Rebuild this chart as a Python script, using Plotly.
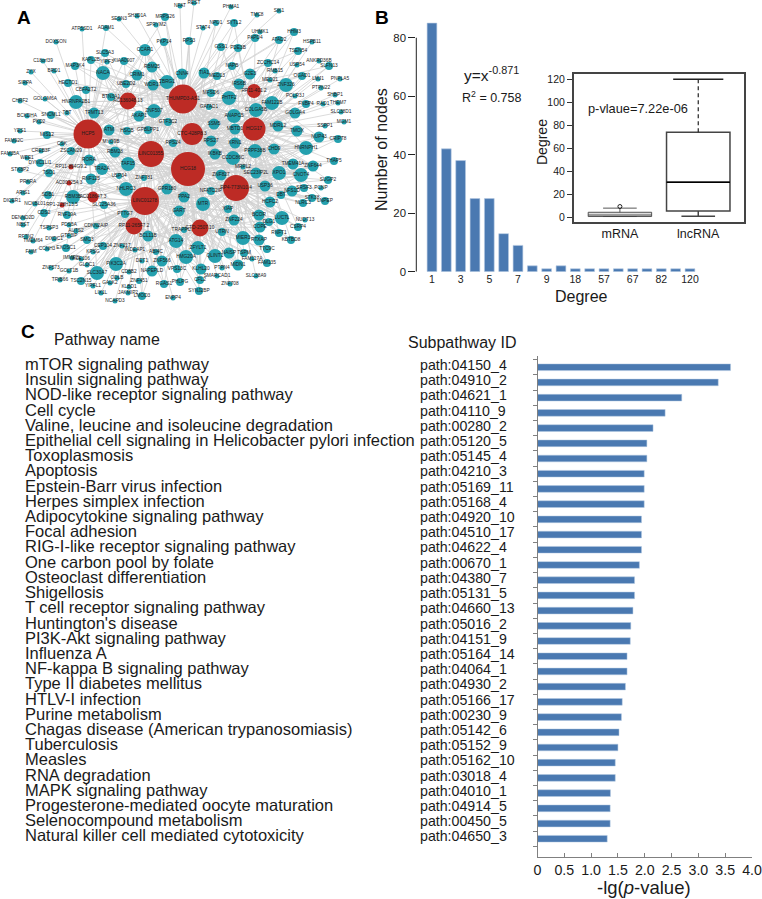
import plotly.graph_objects as go

W, H = 762, 899
FONT = "Liberation Sans"
BLUE = "#4a79b1"
TEAL = "#24a0ae"
RED = "#bd2b25"

# ---------- Panel A: co-expression network ----------
hub_names = ["THUMPD3-AS1", "RP11-401.2", "AC136048.13", "HCP5", "CTC-428P8.3", "HCG17", "LINC01355", "HCG18",
             "RP4-773N10.4", "LINC01278", "RP11-265F7.2", "CTD-2507.10", "AC018647.3", "RP11-894G9.2",
             "AC007254.3", "RP1-228H13.5"]
hub_x = [183, 254, 128, 88, 192, 254, 151, 188, 236, 145, 134, 200, 93, 71, 69, 62]
hub_y = [99, 91, 101, 134, 134, 129, 154, 169, 188, 201, 226, 228, 197, 167, 183, 205]
hub_d = [29, 14, 17, 29, 22, 23, 26, 34, 26, 28, 17, 17, 11, 5, 5, 5]

gene_names = [
    "NFAT", "REST", "PHMA1", "SIK1", "TMC8", "SESN3", "SH3D1A", "MRPS26", "SPRYM2", "STAT4",
    "NPO1", "SYTL2", "ATP5SD1", "ADAM1", "UHMK1", "HHM3", "PAPD4", "ATAD2", "HSPB11", "PKP14",
    "RPS3", "DOXSON", "GSS1", "PDE3B", "TSEN54", "CCAR1", "SLC5A3", "YIPF3", "KIAA0907", "C18orf39",
    "KAPL2B", "ZCCHC14", "ANKRD36B", "USP54", "SLFN13", "MAP3K4", "RBM25", "NAPB", "RMB15", "ZYX",
    "BRD1", "NACA", "CRIM1", "CNN4", "TIA1", "MED13", "G2E3", "OGAD1", "SIRPA", "HECTD1",
    "UBE2D2", "WDR17", "TBRG1", "IRS6B", "MED21", "ZNF326", "LMJ1", "PNPLA5", "CBFA2T2", "MFSD6",
    "PTPN22", "POLR3J", "SHBP1", "CHRF2", "GOLGM6A", "BTN3A1", "PHTF2", "FAM122B", "FNBP4", "RAD1",
    "THEM7", "HNRNPA2B1", "GATAD1", "COLGA5B", "SLC38D1", "TRMT13", "ZNF507", "GOLGA4", "BCKDHA", "SNCML1",
    "TBT", "AKAP1", "ANAPC5", "MGM1", "GTF3C2", "SSM5", "PKD2", "MDRL2", "SSPP1", "MBTD1",
    "TMOX", "YES1", "ATM", "HSCB", "GPBLPP1", "NUP43", "MIS12", "CRIPT8", "MYO9B", "RPS24",
    "RPS27", "KRN1", "FAM92C", "CSK", "CHD9", "HNRNPH1", "PRPF38B", "CREB3F", "ZSCAN29", "RBM28",
    "IKBKB", "CCDC86C", "FAM35A", "WEE1",
    "RORA", "TRA2A", "TAF15", "ZNF781", "DYNC1LI1", "STK8P2", "TSO1", "PRKRA",
    "RNF125", "USP34", "NHLRC3", "GPR180", "ZNF827", "MRPL2", "SEC23IP2L", "XPO1", "CNOT4", "TMEM41A",
    "ZNF644", "THAP5", "SUGP2", "USP36", "NFATC2IP", "NFS1D", "SRSF3", "PCNP", "DBT", "STK38",
    "HCFC2", "NLRC3", "LNPEP", "PPA2", "MTR", "GART", "XIAP", "ARIS1", "SDB1", "RBM3B",
    "DICER1", "NCKBL01", "SLC25A36", "PTTG7", "CDS2", "RNF19A", "DENND2D", "NBST", "PDS5A", "CDKN2AIP",
    "ZNF224", "BCOR", "LUC7L", "DLG1", "COPE", "NUDT13", "CSRP4", "RNFT1", "KBTBD8", "AUTS2",
    "TSPSP3", "GTF3IP", "BCL11B", "SMC3", "RFTN2", "TMEM64", "DIXDC1", "TRAPPC10", "UTRN", "MIER3",
    "RTXAP", "ATG14", "CEP104", "ZNF217", "CCNH3", "EXOSC1", "FAIM", "KPSG", "INDEAP1", "ABI4C",
    "ZFYLT1", "TTC9C", "NAISP", "TSPM", "QLINT1", "IMMP2L", "ACE106", "GLDC1", "DET1", "ZNF566",
    "HMG20A", "FAM117A", "FAM135", "MIDN1", "PIK3C2A", "ZNF573", "GOLT1B", "SLC30A7", "CD8B2", "KLHL20",
    "VPS13C", "PTPN4", "NAPEPLD", "SMARCAD1", "SLC38A9", "TRIB66", "TSC2N15", "ODLB", "ZNF451", "PHLPG",
    "CFL2", "ZNF708", "YIPFL1", "GALK2", "RGAS1", "KLBD1", "SYNJ2BP", "LIX1L", "JAKMIP2", "ENPP4",
    "NCAPD3", "LMOD3",
]
gene_x = [
    180, 194, 231, 279, 257, 119, 137, 165, 156, 203,
    216, 234, 82, 106, 260, 294, 255, 279, 312, 164,
    189, 56, 221, 238, 298, 145, 105, 107, 124, 43,
    91, 268, 319, 297, 329, 75, 152, 232, 275, 31,
    54, 103, 137, 182, 204, 217, 250, 302, 25, 68,
    126, 153, 167, 239, 270, 286, 318, 340, 86, 211,
    321, 295, 335, 20, 45, 111, 229, 272, 306, 323,
    338, 76, 209, 256, 341, 94, 154, 295, 27, 51,
    67, 139, 234, 344, 168, 214, 39, 278, 325, 235,
    297, 20, 109, 127, 148, 319, 47, 338, 111, 173,
    211, 235, 14, 62, 274, 306, 255, 41, 71, 115,
    215, 233, 10, 27,
    89, 102, 128, 144, 40, 20, 49, 28,
    91, 119, 126, 167, 221, 243, 256, 279, 301, 293,
    313, 334, 328, 265, 211, 292, 304, 321, 281, 312,
    270, 303, 325, 184, 203, 179, 228, 23, 48, 73,
    12, 35, 104, 125, 44, 67, 23, 23, 69, 96,
    234, 259, 282, 269, 260, 305, 298, 279, 291, 76,
    49, 69, 148, 87, 26, 33, 54, 184, 222, 243,
    259, 176, 103, 122, 47, 66, 31, 93, 135, 156,
    198, 267, 229, 244, 215, 72, 81, 87, 142, 162,
    186, 252, 267, 238, 116, 51, 69, 97, 129, 201,
    177, 222, 152, 217, 256, 60, 81, 117, 139, 180,
    200, 230, 93, 110, 164, 129, 199, 101, 128, 173,
    115, 142,
]
gene_y = [
    6, 3, 7, 11, 15, 19, 16, 17, 25, 28,
    23, 23, 29, 28, 32, 32, 38, 40, 42, 42,
    41, 42, 47, 48, 51, 50, 53, 62, 61, 61,
    60, 63, 61, 65, 66, 66, 67, 66, 71, 72,
    71, 73, 75, 74, 73, 76, 74, 76, 83, 83,
    84, 85, 82, 84, 80, 85, 79, 79, 90, 93,
    88, 96, 95, 101, 99, 97, 98, 103, 104, 104,
    103, 102, 107, 110, 112, 113, 111, 113, 116, 115,
    113, 116, 116, 122, 122, 124, 122, 126, 126, 129,
    131, 131, 130, 131, 130, 137, 135, 139, 142, 143,
    141, 143, 141, 144, 149, 148, 151, 151, 151, 152,
    154, 158, 154, 158,
    160, 169, 164, 178, 163, 170, 173, 182,
    179, 176, 189, 189, 175, 167, 173, 173, 175, 164,
    166, 161, 180, 186, 191, 191, 188, 188, 195, 198,
    202, 203, 201, 197, 204, 211, 209, 193, 195, 197,
    201, 204, 205, 214, 213, 215, 218, 225, 225, 226,
    220, 215, 218, 222, 227, 220, 227, 233, 240, 231,
    228, 236, 236, 240, 237, 241, 239, 230, 232, 238,
    240, 241, 246, 246, 249, 248, 252, 252, 250, 252,
    248, 249, 253, 253, 256, 258, 259, 265, 261, 261,
    257, 259, 263, 265, 264, 268, 271, 273, 272, 269,
    269, 268, 271, 276, 276, 280, 281, 278, 281, 282,
    280, 284, 286, 283, 284, 287, 291, 293, 293, 298,
    301, 296,
]
gene_d = [
    5, 5, 5, 5, 5, 5, 5, 8, 5, 5,
    6, 8, 5, 6, 5, 8, 8, 8, 5, 8,
    8, 5, 8, 8, 8, 12, 8, 5, 8, 5,
    8, 8, 5, 5, 8, 8, 11, 8, 5, 5,
    5, 14, 11, 11, 11, 8, 11, 8, 5, 8,
    8, 11, 14, 11, 5, 14, 5, 5, 8, 8,
    5, 5, 5, 5, 5, 8, 14, 14, 8, 5,
    5, 14, 6, 14, 5, 11, 14, 11, 5, 8,
    5, 11, 14, 5, 8, 11, 5, 11, 5, 11,
    11, 5, 11, 8, 8, 11, 8, 8, 5, 8,
    11, 11, 5, 5, 11, 14, 14, 5, 8, 11,
    11, 14, 5, 5,
    11, 12, 14, 6, 8, 6, 8, 5,
    11, 6, 14, 11, 11, 5, 11, 14, 14, 11,
    11, 8, 8, 11, 8, 11, 8, 5, 8, 8,
    11, 8, 8, 11, 14, 11, 8, 5, 8, 14,
    5, 5, 8, 8, 8, 8, 5, 5, 5, 6,
    11, 11, 14, 8, 11, 5, 8, 8, 8, 5,
    5, 5, 11, 8, 5, 5, 5, 6, 8, 14,
    11, 14, 8, 5, 5, 8, 5, 5, 5, 6,
    14, 8, 11, 8, 14, 5, 5, 5, 5, 11,
    14, 5, 8, 11, 14, 5, 5, 14, 5, 11,
    8, 5, 11, 5, 5, 5, 8, 5, 6, 8,
    8, 5, 5, 5, 8, 5, 8, 5, 5, 5,
    5, 8,
]
assert len(gene_names) == len(gene_x) == len(gene_y) == len(gene_d)

# ---------- Panel B ----------
degree_labels = ["1", "2", "3", "4", "5", "6", "7", "8", "9", "11", "18", "31", "57", "59", "67", "71", "82", "96", "120"]
degree_counts = [85, 42, 38, 25, 25, 13, 9, 2, 1, 2, 1, 1, 1, 1, 1, 1, 1, 1, 1]
count_ticks = [0, 20, 40, 60, 80]

box_groups = ["mRNA", "lncRNA"]
box_low = [0.7, 1]
box_q1 = [0.7, 5.5]
box_median = [2, 30.5]
box_q3 = [4.4, 74]
box_high = [8, 120]
mrna_outlier = 9.4
inset_ticks = [0, 20, 40, 60, 80, 100, 120]

# ---------- Panel C ----------
pathway_names = [
    "mTOR signaling pathway", "Insulin signaling pathway", "NOD-like receptor signaling pathway", "Cell cycle",
    "Valine, leucine and isoleucine degradation", "Epithelial cell signaling in Helicobacter pylori infection",
    "Toxoplasmosis", "Apoptosis", "Epstein-Barr virus infection", "Herpes simplex infection",
    "Adipocytokine signaling pathway", "Focal adhesion", "RIG-I-like receptor signaling pathway",
    "One carbon pool by folate", "Osteoclast differentiation", "Shigellosis", "T cell receptor signaling pathway",
    "Huntington's disease", "PI3K-Akt signaling pathway", "Influenza A", "NF-kappa B signaling pathway",
    "Type II diabetes mellitus", "HTLV-I infection", "Purine metabolism", "Chagas disease (American trypanosomiasis)",
    "Tuberculosis", "Measles", "RNA degradation", "MAPK signaling pathway", "Progesterone-mediated oocyte maturation",
    "Selenocompound metabolism", "Natural killer cell mediated cytotoxicity",
]
subpathway_ids = [
    "path:04150_4", "path:04910_2", "path:04621_1", "path:04110_9", "path:00280_2", "path:05120_5", "path:05145_4",
    "path:04210_3", "path:05169_11", "path:05168_4", "path:04920_10", "path:04510_17", "path:04622_4", "path:00670_1",
    "path:04380_7", "path:05131_5", "path:04660_13", "path:05016_2", "path:04151_9", "path:05164_14", "path:04064_1",
    "path:04930_2", "path:05166_17", "path:00230_9", "path:05142_6", "path:05152_9", "path:05162_10", "path:03018_4",
    "path:04010_1", "path:04914_5", "path:00450_5", "path:04650_3",
]
pathway_values = [3.6, 3.37, 2.69, 2.38, 2.155, 2.04, 2.04, 1.99, 1.99, 1.99, 1.94, 1.94, 1.94, 1.90, 1.81, 1.81,
                  1.78, 1.74, 1.73, 1.67, 1.67, 1.64, 1.58, 1.565, 1.52, 1.50, 1.45, 1.45, 1.36, 1.355, 1.355, 1.30]
value_ticks = [0, 0.5, 1, 1.5, 2, 2.5, 3, 3.5, 4]
value_tick_text = ["0", "0.5", "1.0", "1.5", "2.0", "2.5", "3.0", "3.5", "4.0"]


def dom_x(a, b):
    return [a / W, b / W]


def dom_y(top, bottom):
    return [1 - bottom / H, 1 - top / H]


fig = go.Figure()

# network edges: each gene links to as many hubs as its node size suggests, preferring large close hubs
links_for_size = {5: 1, 6: 2, 8: 3, 11: 6, 12: 6, 14: 9}
edge_x, edge_y = [], []
for gx, gy, gd in zip(gene_x, gene_y, gene_d):
    ranked = sorted(range(len(hub_x)),
                    key=lambda h: ((hub_x[h] - gx) ** 2 + (hub_y[h] - gy) ** 2) ** 0.5 / hub_d[h] ** 1.2)
    for h in ranked[:links_for_size[gd]]:
        edge_x += [gx, hub_x[h], None]
        edge_y += [gy, hub_y[h], None]
fig.add_trace(go.Scatter(x=edge_x, y=edge_y, mode="lines", line=dict(color="#d2d2d2", width=0.8),
                         hoverinfo="skip", xaxis="x", yaxis="y"))
fig.add_trace(go.Scatter(x=gene_x, y=gene_y, text=gene_names, mode="markers+text",
                         marker=dict(color=TEAL, size=gene_d, opacity=1, line=dict(width=0)),
                         textposition="middle center", textfont=dict(family=FONT, size=4.8, color="#1c1c1c"),
                         xaxis="x", yaxis="y"))
fig.add_trace(go.Scatter(x=hub_x, y=hub_y, text=hub_names, mode="markers+text",
                         marker=dict(color=RED, size=hub_d, opacity=1, line=dict(width=0)),
                         textposition="middle center", textfont=dict(family=FONT, size=4.8, color="#1c1c1c"),
                         xaxis="x", yaxis="y"))

# degree histogram
fig.add_trace(go.Bar(x=list(range(len(degree_counts))), y=degree_counts, width=0.68,
                     marker=dict(color=BLUE, line=dict(color="#b5cae3", width=0.6)),
                     xaxis="x2", yaxis="y2"))

# inset box plot
for i in range(2):
    upper = box_high[i] if i == 0 else box_q3[i]
    fig.add_trace(go.Box(x=[i], q1=[box_q1[i]], median=[box_median[i]], q3=[box_q3[i]],
                         lowerfence=[box_low[i]], upperfence=[upper], width=0.81, whiskerwidth=0.53,
                         boxpoints=False, fillcolor="#dedede" if i == 0 else "white",
                         line=dict(color="#444444", width=0.9 if i == 0 else 1.5), xaxis="x3", yaxis="y3"))
fig.add_trace(go.Scatter(x=[0.595, 1.405], y=[box_median[1], box_median[1]], mode="lines",
                         line=dict(color="#000000", width=1.6), xaxis="x3", yaxis="y3"))
fig.add_trace(go.Scatter(x=[1, 1], y=[box_q3[1], box_high[1]], mode="lines",
                         line=dict(color="#222222", width=1.2, dash="4px,3px"), xaxis="x3", yaxis="y3"))
fig.add_trace(go.Scatter(x=[0.68, 1.32], y=[box_high[1], box_high[1]], mode="lines",
                         line=dict(color="#222222", width=1.5), xaxis="x3", yaxis="y3"))
fig.add_trace(go.Scatter(x=[0], y=[mrna_outlier], mode="markers",
                         marker=dict(symbol="circle-open", size=4, color="#222222", line=dict(width=1)),
                         xaxis="x3", yaxis="y3"))

# pathway bars
fig.add_trace(go.Bar(x=pathway_values, y=list(range(len(pathway_values))), orientation="h", width=0.44,
                     marker=dict(color=BLUE, line=dict(color="#b5cae3", width=0.5)),
                     xaxis="x4", yaxis="y4"))

annotations = []


def label(text, x, y, size, anchor="center", angle=0, **kw):
    annotations.append(dict(text=text, x=x / W, y=1 - y / H, xref="paper", yref="paper", showarrow=False,
                            xanchor=anchor, yanchor="middle", textangle=angle, borderpad=0,
                            font=dict(family=FONT, size=size, color=kw.get("color", "#1a1a1a"))))


label("<b>A</b>", 24, 17, 19, color="#000000")
label("<b>B</b>", 382, 17, 19, color="#000000")
label("<b>C</b>", 28, 331, 19, color="#000000")
label("Number of nodes", 381, 150, 16, angle=-90)
label("Degree", 581, 296, 16)
label("y=x<sup>-0.871</sup>", 462.5, 74, 15.5, anchor="left")
label("R<sup>2</sup> = 0.758", 460.5, 97, 12.5, anchor="left")
label("Degree", 542, 142, 14, angle=-90)
label("p-vlaue=7.22e-06", 586.7, 108.5, 12.8, anchor="left")
label("Pathway name", 53, 340, 16, anchor="left")
label("Subpathway ID", 406.7, 342.5, 16, anchor="left")
label("-lg(<i>p</i>-value)", 644, 887, 18.5)

for i, (name, pid) in enumerate(zip(pathway_names, subpathway_ids)):
    annotations.append(dict(text=name, x=23.5 / W, y=i, xref="paper", yref="y4", yshift=3.3, showarrow=False,
                            xanchor="left", yanchor="middle", borderpad=0,
                            font=dict(family=FONT, size=16.5, color="#1a1a1a")))
    annotations.append(dict(text=pid, x=419.5 / W, y=i, xref="paper", yref="y4", yshift=2.3, showarrow=False,
                            xanchor="left", yanchor="middle", borderpad=0,
                            font=dict(family=FONT, size=14.2, color="#1a1a1a")))

row_top = -0.74
row_bottom = 32.2

fig.update_layout(
    width=W, height=H, autosize=False, showlegend=False,
    margin=dict(l=0, r=0, t=0, b=0, autoexpand=False),
    paper_bgcolor="white", plot_bgcolor="rgba(0,0,0,0)", font=dict(family=FONT, color="#1a1a1a"),
    hovermode=False, annotations=annotations,
    xaxis=dict(domain=dom_x(0, 370), range=[0, 370], visible=False, fixedrange=True),
    yaxis=dict(domain=dom_y(0, 320), range=[320, 0], visible=False, fixedrange=True),
    xaxis2=dict(domain=dom_x(416.3, 700), range=[-1.094, 18.7], anchor="y2", showgrid=False, zeroline=False,
                showline=False, ticks="", tickmode="array", tickvals=list(range(0, 19, 2)),
                ticktext=degree_labels[0::2], tickfont=dict(size=10.5, family=FONT), ticklen=0, fixedrange=True),
    yaxis2=dict(domain=dom_y(8.5, 271.7), range=[0, 90], anchor="x2", showgrid=False, zeroline=False,
                showline=False, ticks="outside", ticklen=7, tickwidth=1, tickcolor="#222222",
                tickmode="array", tickvals=count_ticks, tickfont=dict(size=11.4, family=FONT), fixedrange=True),
    xaxis3=dict(domain=dom_x(573.7, 744), range=[-0.59, 1.584], anchor="y3", showgrid=False, zeroline=False,
                showline=True, mirror=True, linecolor="#444444", linewidth=1.5, ticks="",
                tickmode="array", tickvals=[0, 1], ticktext=box_groups, tickfont=dict(size=12.5, family=FONT),
                fixedrange=True),
    yaxis3=dict(domain=dom_y(74, 221.7), range=[-3.8, 124.6], anchor="x3", showgrid=False, zeroline=False,
                showline=True, mirror=True, linecolor="#444444", linewidth=1.5, ticks="outside", ticklen=5,
                tickcolor="#333333", tickmode="array", tickvals=inset_ticks, tickfont=dict(size=10.5, family=FONT),
                fixedrange=True),
    xaxis4=dict(domain=dom_x(537.5, 752), range=[0, 4], anchor="y4", showgrid=False, zeroline=False,
                showline=True, linecolor="#808080", linewidth=1, ticks="inside", ticklen=4, tickcolor="#808080",
                tickmode="array", tickvals=value_ticks, ticktext=value_tick_text,
                tickfont=dict(size=14.2, family=FONT), fixedrange=True),
    yaxis4=dict(domain=dom_y(356, 857), range=[row_bottom, row_top], anchor="x4", showgrid=False, zeroline=False,
                showline=True, linecolor="#808080", linewidth=1, ticks="outside", ticklen=4, tickcolor="#808080",
                tickmode="array", tickvals=[i - 0.5 for i in range(33)], showticklabels=False, fixedrange=True),
    shapes=[dict(type="line", xref="x2 domain", yref="y2", x0=0, x1=0, y0=count_ticks[0], y1=count_ticks[-1],
                 line=dict(color="#222222", width=1))],
)

fig.write_html("out.html", post_script="document.body.style.margin='0';", config={"displayModeBar": False})
